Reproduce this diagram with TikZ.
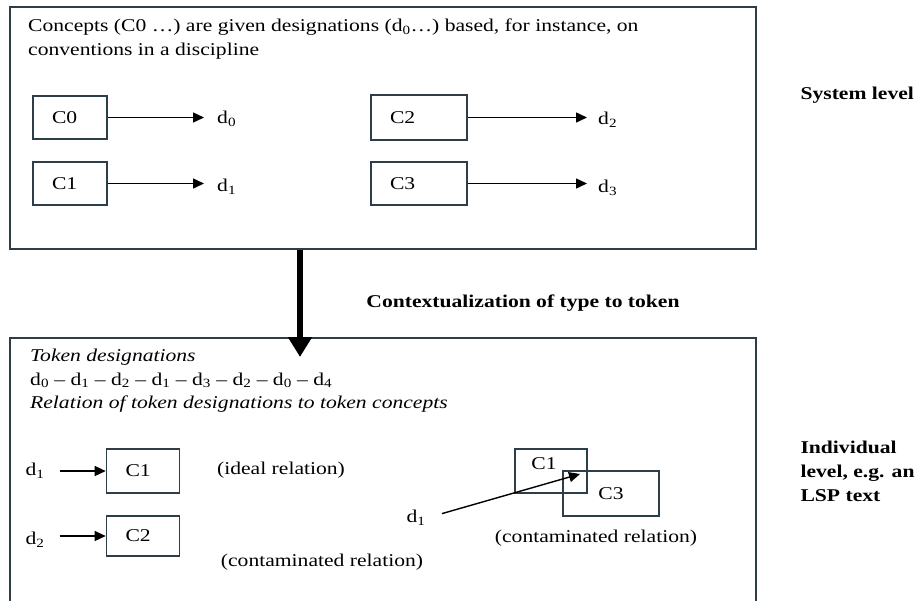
\documentclass[tikz,border=0pt]{standalone}
\usepackage{fontspec}
\setmainfont{Liberation Serif}[FakeStretch=1.2]
\usetikzlibrary{arrows.meta}
\definecolor{edge}{RGB}{45,62,72}
\begin{document}
\begin{tikzpicture}[x=1pt,y=-1pt,
  font=\fontsize{18pt}{23.5pt}\selectfont,
  frame/.style={draw=edge,line width=2.2pt,inner sep=0pt},
  cbox/.style={draw=edge,line width=1.6pt,inner xsep=19pt,inner ysep=0pt,align=left,anchor=center},
  dlab/.style={inner sep=1pt},
  arr/.style={draw=black,line width=1.4pt,-{Triangle[length=11pt,width=10pt]}},
  bigarr/.style={draw=black,line width=6pt,-{Triangle[length=20pt,width=23pt]}},
  bold/.style={font=\fontsize{18pt}{24pt}\selectfont\bfseries,align=left}]
\useasboundingbox (0,0) rectangle (917,600);
\clip (0,0) rectangle (917,600);
% frames
\node[frame,minimum width=746pt,minimum height=242pt] (top) at (383,128) {};
\node[frame,minimum width=746pt,minimum height=300pt] (low) at (383,488) {};
% top texts
\node[anchor=west,align=left,inner sep=0pt] (intro) at (28,39)
  {Concepts (C0 \dots) are given designations (d\textsubscript{0}\dots) based, for instance, on\\conventions in a discipline};
% top boxes
\node[cbox,minimum width=74pt,minimum height=43pt,text width=36pt] (c0) at (70,117.5) {C0};
\node[cbox,minimum width=74pt,minimum height=43pt,text width=36pt] (c1) at (70,183.5) {C1};
\node[cbox,minimum width=96pt,minimum height=45pt,text width=58pt] (c2) at (419,117.5) {C2};
\node[cbox,minimum width=96pt,minimum height=43pt,text width=58pt] (c3) at (419,183.5) {C3};
\node[dlab,anchor=west] (d0) at (216,119) {d\textsubscript{0}};
\node[dlab,anchor=west] (d1) at (216,187) {d\textsubscript{1}};
\node[dlab,anchor=west] (d2) at (597,120) {d\textsubscript{2}};
\node[dlab,anchor=west] (d3) at (597,188) {d\textsubscript{3}};
\draw[arr,shorten >=12pt] (c0.east) -- (c0.east -| d0.west);
\draw[arr,shorten >=12pt] (c1.east) -- (c1.east -| d1.west);
\draw[arr,shorten >=10pt] (c2.east) -- (c2.east -| d2.west);
\draw[arr,shorten >=10pt] (c3.east) -- (c3.east -| d3.west);
% side labels
\node[bold,anchor=west] (sys) at (797,95) {System level};
\node[bold,anchor=west] (ind) at (797,471) {Individual\\level, e.g. an\\LSP text};
\node[bold] (ctx) at (523,303) {Contextualization of type to token};
% big arrow
\coordinate (ctip) at (300,357);
\draw[bigarr] (top.south -| ctip) -- (ctip);
% lower texts
\node[anchor=west,align=left,inner sep=0pt] (tok) at (30,381)
  {\itshape Token designations\\
   d\textsubscript{0} -- d\textsubscript{1} -- d\textsubscript{2} -- d\textsubscript{1} -- d\textsubscript{3} -- d\textsubscript{2} -- d\textsubscript{0} -- d\textsubscript{4}\\
   \itshape Relation of token designations to token concepts};
% lower left
\node[cbox,minimum width=73pt,minimum height=44pt,text width=35pt] (lc1) at (143,471) {C1};
\node[cbox,minimum width=73pt,minimum height=40pt,text width=35pt] (lc2) at (143,536) {C2};
\node[dlab] (ld1) at (35,471) {d\textsubscript{1}};
\node[dlab] (ld2) at (35,540) {d\textsubscript{2}};
\draw[arr,shorten <=14pt] (ld1.east |- lc1.west) -- (lc1.west);
\draw[arr,shorten <=14pt] (ld2.east |- lc2.west) -- (lc2.west);
\node (ideal) at (281,470) {(ideal relation)};
\node (cont1) at (322,562) {(contaminated relation)};
% lower right
\node[draw=edge,line width=1.6pt,minimum width=72pt,minimum height=44pt,inner sep=0pt] (rc1) at (551,471) {};
\node[draw=edge,line width=1.6pt,minimum width=96pt,minimum height=45pt,inner sep=0pt] (rc3) at (611,493.5) {};
\node[inner sep=0pt] (rc1t) at (544,464) {C1};
\node[inner sep=0pt] (rc3t) at (611,494) {C3};
\node[dlab] (rd1) at (416,518) {d\textsubscript{1}};
\coordinate (rtip) at (580,474);
\draw[arr,shorten <=16pt] (rd1.east) -- (rtip);
\node (cont2) at (596,538) {(contaminated relation)};
\end{tikzpicture}
\end{document}
